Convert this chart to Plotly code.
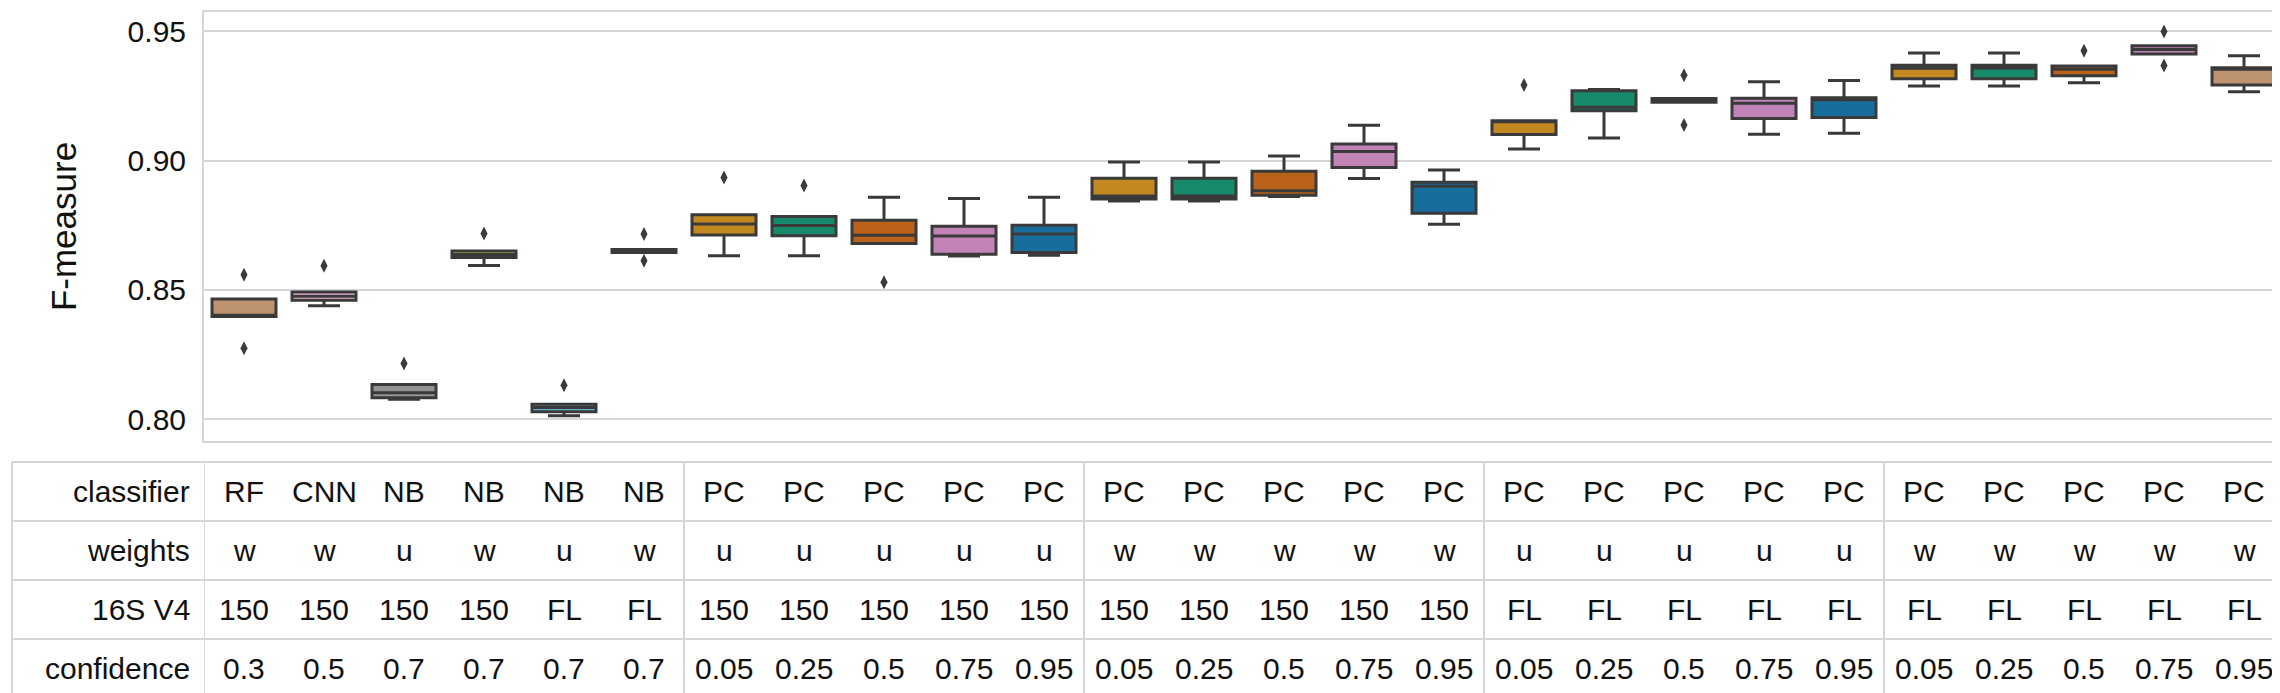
import plotly.graph_objects as go

# table rows under the boxes
classifier = ["RF", "CNN", "NB", "NB", "NB", "NB"] + ["PC"] * 20
weights = ["w", "w", "u", "w", "u", "w"] + ["u"] * 5 + ["w"] * 5 + ["u"] * 5 + ["w"] * 5
region = ["150"] * 4 + ["FL", "FL"] + ["150"] * 10 + ["FL"] * 10
confidence = ["0.3", "0.5", "0.7", "0.7", "0.7", "0.7"] + ["0.05", "0.25", "0.5", "0.75", "0.95"] * 4

# box statistics (F-measure)
q1 = [0.8397, 0.8460, 0.8082, 0.8625, 0.8028, 0.8644,
      0.8712, 0.8709, 0.8679, 0.8638, 0.8644,
      0.8851, 0.8851, 0.8866, 0.8973, 0.8796,
      0.9101, 0.9193, 0.9226, 0.9163, 0.9167,
      0.9317, 0.9317, 0.9328, 0.9412, 0.9293]
median = [0.8402, 0.8475, 0.8102, 0.8637, 0.8045, 0.8650,
          0.8755, 0.8749, 0.8711, 0.8708, 0.8716,
          0.8863, 0.8863, 0.8883, 0.9035, 0.8901,
          0.9150, 0.9206, 0.9234, 0.9222, 0.9235,
          0.9357, 0.9358, 0.9353, 0.9430, 0.9353]
q3 = [0.8464, 0.8492, 0.8134, 0.8650, 0.8057, 0.8656,
      0.8790, 0.8784, 0.8769, 0.8746, 0.8750,
      0.8932, 0.8932, 0.8959, 0.9064, 0.8916,
      0.9154, 0.9270, 0.9240, 0.9241, 0.9243,
      0.9369, 0.9369, 0.9366, 0.9444, 0.9359]
lower = [0.8397, 0.8438, 0.8077, 0.8594, 0.8013, 0.8644,
         0.8632, 0.8632, 0.8679, 0.8631, 0.8634,
         0.8844, 0.8844, 0.8861, 0.8931, 0.8754,
         0.9045, 0.9087, 0.9226, 0.9102, 0.9106,
         0.9289, 0.9289, 0.9301, 0.9412, 0.9266]
upper = [0.8464, 0.8492, 0.8134, 0.8650, 0.8057, 0.8656,
         0.8790, 0.8784, 0.8858, 0.8853, 0.8858,
         0.8995, 0.8995, 0.9018, 0.9137, 0.8964,
         0.9154, 0.9275, 0.9240, 0.9305, 0.9310,
         0.9416, 0.9416, 0.9366, 0.9444, 0.9406]

outlier_idx = [0, 0, 1, 2, 3, 4, 5, 5, 6, 7, 8, 16, 18, 18, 23, 24, 24]
outlier_val = [0.8558, 0.8274, 0.8593, 0.8215, 0.8718, 0.8131, 0.8716, 0.8612,
               0.8935, 0.8904, 0.8529, 0.9293, 0.9330, 0.9138, 0.9425, 0.9500, 0.9368]

# seaborn colorblind, desaturated
tan, lpink, grey, yellow, lblue = "#bd926e", "#f2b8e0", "#949494", "#d5cd4a", "#68afd7"
orange, green, verm, pink, blue = "#c38820", "#168a6a", "#ba611b", "#c283b6", "#176d9c"
colors = [tan, lpink, grey, yellow, lblue, blue] + [orange, green, verm, pink, blue] * 3 \
    + [orange, green, verm, pink, tan]

LINE = "#3a3a3a"
GRID = "#d6d6d6"
FONT = "Liberation Sans, Arial, sans-serif"

fig = go.Figure()
for i in range(len(q1)):
    fig.add_trace(go.Box(x=[i], q1=[q1[i]], median=[median[i]], q3=[q3[i]],
                         lowerfence=[lower[i]], upperfence=[upper[i]],
                         fillcolor=colors[i], line=dict(color=LINE, width=3),
                         width=0.8, whiskerwidth=0.5, boxpoints=False,
                         showlegend=False, hoverinfo="y"))

fig.add_trace(go.Scatter(x=outlier_idx, y=outlier_val, mode="markers",
                         marker=dict(symbol="diamond-tall", size=10, color=LINE),
                         showlegend=False))

# table drawn under the plot
W, H = 2280, 693
ml, mr, mt, mb = 196, 4, 4, 260
ph = H - mt - mb
pw = W - ml - mr

def py(ypx):
    return (H - mb - ypx) / ph

def px_(xpx):
    return (xpx - ml) / pw

row_lines = [454, 513, 572, 631, 689]
for yl in row_lines:
    fig.add_shape(type="line", xref="paper", yref="paper",
                  x0=px_(4), x1=px_(2276), y0=py(yl), y1=py(yl),
                  line=dict(color=GRID, width=2))
for xv in [-0.5, 5.5, 10.5, 15.5, 20.5, 25.5]:
    fig.add_shape(type="line", xref="x", yref="paper", x0=xv, x1=xv,
                  y0=py(454), y1=py(689), line=dict(color=GRID, width=2))
fig.add_shape(type="line", xref="paper", yref="paper", x0=px_(4), x1=px_(4),
              y0=py(454), y1=py(689), line=dict(color=GRID, width=2))

row_names = ["classifier", "weights", "16S V4", "confidence"]
rows = [classifier, weights, region, confidence]
for r, (name, vals) in enumerate(zip(row_names, rows)):
    yc = py((row_lines[r] + row_lines[r + 1]) / 2)
    fig.add_annotation(text=name, xref="paper", yref="paper", x=px_(184), y=yc,
                       xanchor="right", yanchor="middle", showarrow=False,
                       font=dict(size=30, color="#111111", family=FONT))
    for i, v in enumerate(vals):
        fig.add_annotation(text=v, xref="x", yref="paper", x=i, y=yc,
                           xanchor="center", yanchor="middle", showarrow=False,
                           font=dict(size=30, color="#111111", family=FONT))

fig.update_xaxes(range=[-0.5, 25.5], showticklabels=False, showgrid=False,
                 zeroline=False, showline=True, mirror=True, linecolor=GRID, linewidth=2)
fig.update_yaxes(range=[0.7915, 0.9575], tickvals=[0.80, 0.85, 0.90, 0.95],
                 tickformat=".2f", showgrid=True, gridcolor=GRID, gridwidth=2,
                 zeroline=False, showline=True, mirror=True, linecolor=GRID, linewidth=2,
                 ticklabelstandoff=10, tickfont=dict(size=30, color="#111111", family=FONT),
                 title=dict(text="F-measure", standoff=40,
                            font=dict(size=35, color="#111111", family=FONT)))

fig.update_layout(width=W, height=H, boxmode="overlay",
                  margin=dict(l=ml, r=mr, t=mt, b=mb, autoexpand=False),
                  plot_bgcolor="white", paper_bgcolor="white",
                  font=dict(family=FONT))

fig.write_html("out.html")
